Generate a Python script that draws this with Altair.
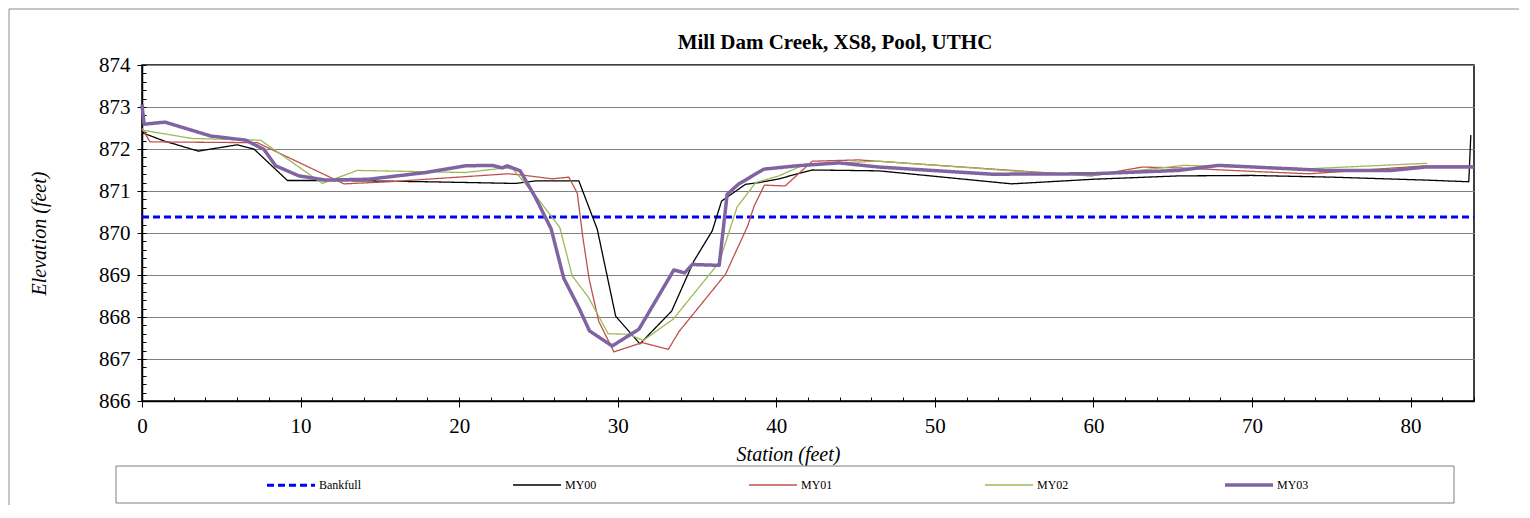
import altair as alt
import pandas as pd

SERIF = "Liberation Serif"

title_text = "Mill Dam Creek, XS8, Pool, UTHC"
x_title = "Station (feet)"
y_title = "Elevation (feet)"

series_names = ["Bankfull", "MY00", "MY01", "MY02", "MY03"]
series_colors = ["#0000ff", "#000000", "#c0504d", "#9bbb59", "#8064a2"]
series_dashes = [[7, 4], [1, 0], [1, 0], [1, 0], [1, 0]]
series_widths = [3, 1.3, 1.3, 1.3, 3.5]

bankfull_station = [0, 84]
bankfull_elev = [870.38, 870.38]

my00_station = [0, 1.4, 3.55, 6.0, 7.06, 9.17, 11.96, 14.3, 18.0, 23.56, 24.8, 27.55, 28.71,
                29.87, 31.4, 33.4, 34.8, 35.96, 36.55, 37.0, 38.06, 38.9, 40.06, 42.27, 46.47,
                54.84, 60.0, 65.4, 70.0, 75.0, 80.94, 83.67, 83.8]
my00_elev = [872.39, 872.19, 871.95, 872.10, 872.00, 871.25, 871.25, 871.24, 871.22, 871.18,
             871.24, 871.24, 870.09, 868.02, 867.36, 868.14, 869.33, 870.05, 870.76, 870.88,
             871.16, 871.20, 871.28, 871.50, 871.48, 871.17, 871.28, 871.36, 871.37, 871.33,
             871.26, 871.22, 872.33]

my01_station = [0, 0.5, 7.27, 12.74, 15.57, 23.1, 23.98, 25.87, 26.92, 27.45, 27.8, 28.2, 28.8,
                29.76, 31.55, 33.19, 33.86, 36.8, 38.2, 38.6, 39.25, 40.56, 42.27, 45.2, 59.9,
                63.07, 65.4, 70.4, 73.6, 76.7, 80.94, 84.0]
my01_elev = [872.5, 872.17, 872.15, 871.17, 871.22, 871.41, 871.38, 871.29, 871.33, 870.95,
             869.9, 868.9, 867.9, 867.17, 867.39, 867.23, 867.65, 869.02, 870.17, 870.64,
             871.14, 871.12, 871.71, 871.74, 871.36, 871.57, 871.55, 871.46, 871.41, 871.49,
             871.6, 871.6]

my02_station = [0, 3.17, 7.48, 11.37, 13.57, 20.4, 22.9, 23.4, 25.0, 26.35, 27.13, 28.15, 29.4,
                30.7, 31.6, 33.5, 36.4, 37.53, 38.7, 40.16, 41.84, 46.47, 54.87, 59.7, 65.7,
                73.6, 81.05]
my02_elev = [872.45, 872.25, 872.21, 871.18, 871.49, 871.44, 871.55, 871.52, 870.8, 870.13,
             868.98, 868.47, 867.6, 867.59, 867.44, 867.95, 869.3, 870.62, 871.2, 871.36,
             871.64, 871.71, 871.48, 871.36, 871.61, 871.53, 871.66]

my03_station = [0, 0.13, 1.45, 4.33, 6.54, 7.69, 8.43, 9.9, 11.58, 14.3, 17.9, 20.4, 22.09,
                22.72, 23.03, 23.85, 24.82, 25.8, 26.6, 27.55, 28.22, 29.65, 31.34, 33.54, 34.22,
                34.7, 36.4, 36.9, 37.64, 39.22, 41.3, 43.95, 46.47, 53.6, 59.9, 65.4, 67.9, 74.6,
                78.8, 80.94, 84.0]
my03_elev = [873.06, 872.59, 872.64, 872.31, 872.21, 871.99, 871.6, 871.36, 871.26, 871.28,
             871.44, 871.6, 871.61, 871.55, 871.6, 871.48, 870.84, 870.1, 868.92, 868.22,
             867.67, 867.31, 867.71, 869.12, 869.05, 869.25, 869.23, 870.92, 871.17, 871.52,
             871.6, 871.67, 871.57, 871.4, 871.41, 871.49, 871.61, 871.49, 871.49, 871.57,
             871.57]

x_ticks = [0, 10, 20, 30, 40, 50, 60, 70, 80]
x_minor_ticks = list(range(0, 85, 2))
y_ticks = [866, 867, 868, 869, 870, 871, 872, 873, 874]
y_minor_ticks = [round(866 + 0.2 * i, 1) for i in range(41)]

rows = []
for name, st, el in [("Bankfull", bankfull_station, bankfull_elev),
                     ("MY00", my00_station, my00_elev),
                     ("MY01", my01_station, my01_elev),
                     ("MY02", my02_station, my02_elev),
                     ("MY03", my03_station, my03_elev)]:
    for i, (s, e) in enumerate(zip(st, el)):
        rows.append({"series": name, "station": s, "elev": e, "idx": i})
df = pd.DataFrame(rows)

x_scale = alt.Scale(domain=[0, 84], nice=False, zero=False)
y_scale = alt.Scale(domain=[866, 874], nice=False, zero=False)

lines = alt.Chart(df).mark_line(strokeJoin="round").encode(
    x=alt.X("station:Q", scale=x_scale,
            axis=alt.Axis(values=x_ticks, title=x_title, tickSize=6, labelPadding=8,
                          labelFlush=False, labelOverlap=False, grid=False,
                          titleX=646, titleY=53, titleBaseline="middle")),
    y=alt.Y("elev:Q", scale=y_scale,
            axis=alt.Axis(values=y_ticks, title=y_title, tickSize=5, labelPadding=7,
                          labelFlush=False, labelOverlap=False, grid=True,
                          gridColor="#808080", gridWidth=1,
                          titleX=-103, titleY=168, titleBaseline="middle")),
    color=alt.Color("series:N", title=None,
                    scale=alt.Scale(domain=series_names, range=series_colors)),
    strokeDash=alt.StrokeDash("series:N", title=None,
                              scale=alt.Scale(domain=series_names, range=series_dashes)),
    strokeWidth=alt.StrokeWidth("series:N", title=None,
                                scale=alt.Scale(type="ordinal", domain=series_names,
                                                range=series_widths)),
    order=alt.Order("idx:Q"),
)

minor = alt.Chart(df).mark_point(opacity=0, size=1).encode(
    x=alt.X("station:Q", scale=x_scale,
            axis=alt.Axis(values=x_minor_ticks, orient="bottom", offset=-4, tickSize=4,
                          labels=False, domain=False, title=None, grid=False)),
    y=alt.Y("elev:Q", scale=y_scale,
            axis=alt.Axis(values=y_minor_ticks, orient="left", offset=-4, tickSize=4,
                          labels=False, domain=False, title=None, grid=False)),
)

one = pd.DataFrame({"k": [0]})

title_mark = alt.Chart(pd.DataFrame({"t": [title_text]})).mark_text(
    font=SERIF, fontSize=21, fontWeight="bold", color="black",
    align="center", baseline="alphabetic"
).encode(text="t:N", x=alt.value(693), y=alt.value(-16))

legend_box = alt.Chart(one).mark_rect(
    fillOpacity=0, stroke="#7f7f7f", strokeWidth=1
).encode(x=alt.value(-26), x2=alt.value(1312), y=alt.value(401), y2=alt.value(438))

frame_top = alt.Chart(one).mark_rule(color="#8c8c8c", strokeWidth=1).encode(
    x=alt.value(-133), x2=alt.value(1377), y=alt.value(-56))
frame_left = alt.Chart(one).mark_rule(color="#8c8c8c", strokeWidth=1).encode(
    x=alt.value(-133), y=alt.value(-56), y2=alt.value(440))

chart = alt.layer(lines, minor, title_mark, legend_box, frame_top, frame_left).resolve_axis(
    x="independent", y="independent"
).properties(
    width=1332, height=336, padding=0
).configure_view(
    stroke="black", strokeWidth=1.5
).configure_axis(
    labelFont=SERIF, titleFont=SERIF, labelFontSize=21, titleFontSize=20,
    labelColor="black", titleColor="black", tickColor="black", domainColor="black",
    domainWidth=1.5, tickWidth=1, titleFontWeight="normal", titleFontStyle="italic"
).configure_legend(
    orient="none", legendX=123, legendY=394, direction="horizontal", columns=5,
    symbolType="stroke", symbolSize=2304, columnPadding=149, labelOffset=2,
    labelFont=SERIF, labelFontSize=12, labelColor="black", padding=0
)

chart.save("out.html", embed_options={"renderer": "svg", "actions": False})
